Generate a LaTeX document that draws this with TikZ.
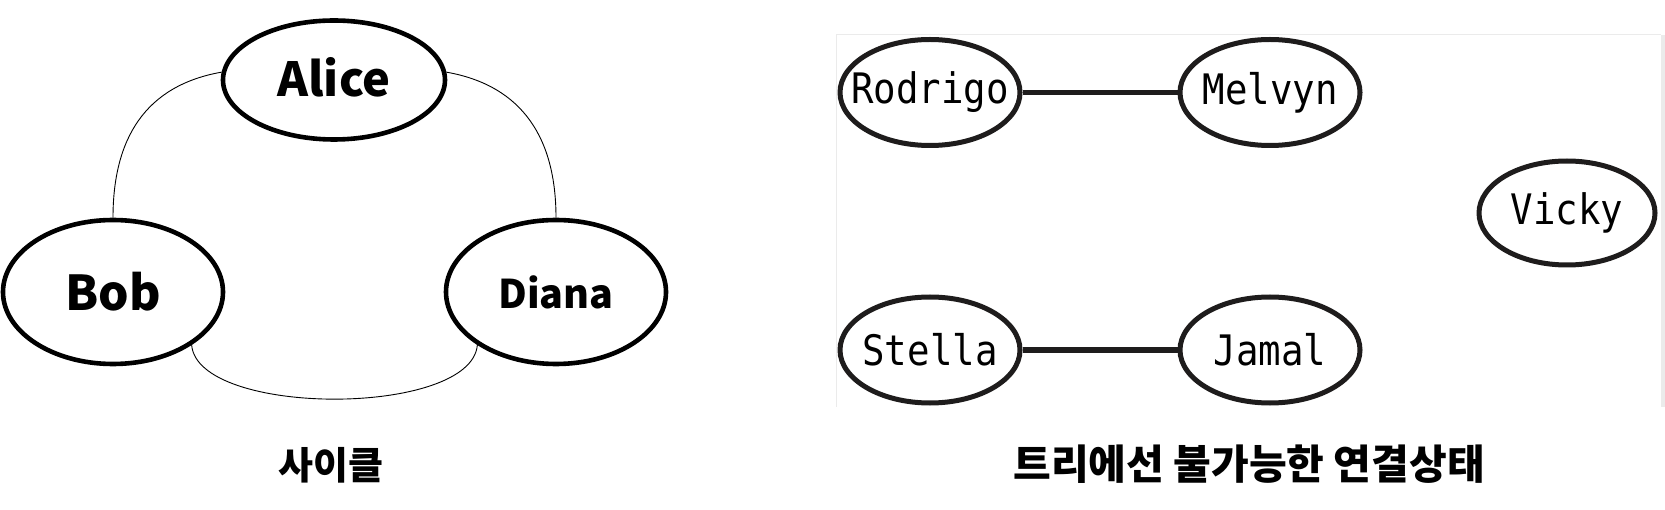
\documentclass[tikz,border=0pt]{standalone}
\usepackage{fontspec}
\usetikzlibrary{shapes.geometric}
\newfontfamily\kr{Noto Sans CJK KR}
\newfontfamily\mono[FakeStretch=0.89]{DejaVu Sans Mono}
\definecolor{panelgrey}{HTML}{EBEBEB}
\definecolor{inkdark}{HTML}{1E1C1C}
\begin{document}
\begin{tikzpicture}[x=1pt,y=1pt,
  cyc/.style={ellipse, draw=black, line width=4.6pt, inner sep=0pt, minimum width=220pt, minimum height=144pt},
  tn/.style={ellipse, draw=inkdark, line width=5pt, inner sep=0pt, minimum width=180pt, minimum height=106pt, font=\mono\fontsize{42}{48}\selectfont},
  thinedge/.style={line width=0.9pt, draw=black},
  bond/.style={line width=5.5pt, draw=inkdark},
  caption/.style={font=\kr\bfseries\fontsize{38}{44}\selectfont, inner sep=0pt}
]
\useasboundingbox (0,0) rectangle (1665,-510);
% right panel frame
\fill[panelgrey] (1661,-35) rectangle (1665,-407);
\draw[line width=1pt, panelgrey] (836,-407) -- (836,-35) -- (1661,-35);

% left: cycle
\node[cyc, minimum width=222pt, minimum height=119pt, font=\kr\bfseries\fontsize{47}{54}\selectfont] (Alice) at (334,-80) {\makebox[0pt][c]{\raisebox{6pt}{Alice}}};
\node[cyc, font=\kr\bfseries\fontsize{48}{56}\selectfont] (Bob) at (113,-292) {\makebox[0pt][c]{Bob}};
\node[cyc, font=\kr\bfseries\fontsize{39.5}{46}\selectfont] (Diana) at (556,-292) {\makebox[0pt][c]{Diana}};

\draw[thinedge] (Alice.176) to[out=190,in=90,looseness=1.1] (Bob.north);
\draw[thinedge] (Alice.4) to[out=-10,in=90,looseness=1.1] (Diana.north);
\draw[thinedge] (Bob.-34) to[out=-85,in=-95,looseness=0.65] (Diana.214);

\node[caption] (cap1) at (331,-465) {사이클};

% right: disconnected graph
\node[tn] (Rodrigo) at (930,-92.5) {\makebox[0pt][c]{Rodrigo}};
\node[tn] (Melvyn) at (1270,-92.5) {\makebox[0pt][c]{Melvyn}};
\node[tn, minimum width=176pt, minimum height=104pt] (Vicky) at (1567,-213) {\makebox[0pt][c]{Vicky}};
\node[tn] (Stella) at (930,-350) {\makebox[0pt][c]{Stella}};
\node[tn] (Jamal) at (1270,-350) {\makebox[0pt][c]{Jamal}};

\draw[bond] (Rodrigo) -- (Melvyn);
\draw[bond] (Stella) -- (Jamal);

\node[caption, font=\kr\bfseries\fontsize{41}{48}\selectfont] (cap2) at (1249,-464) {트리에선 불가능한 연결상태};
\end{tikzpicture}
\end{document}
